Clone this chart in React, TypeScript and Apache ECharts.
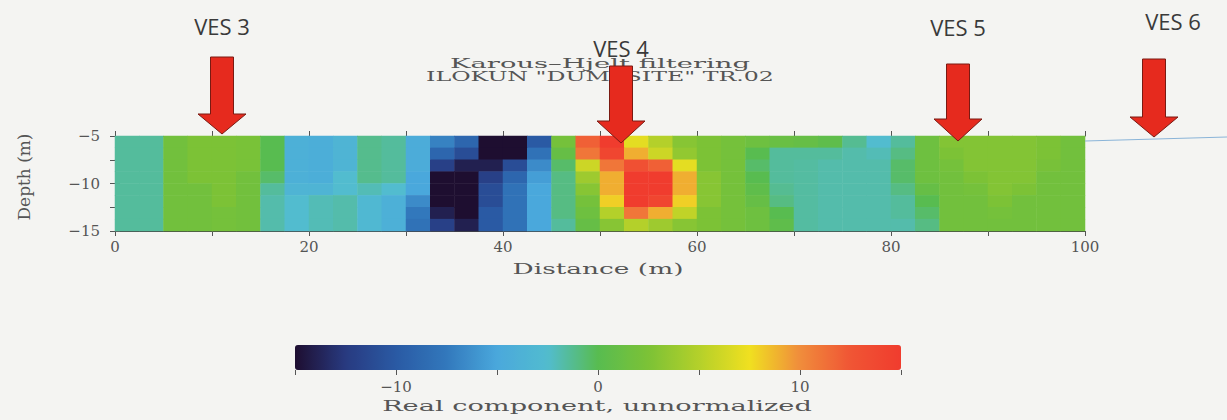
import { useEffect, useRef } from "react";
import * as echarts from "echarts";

// Column centres (distance, m) and row centres (depth, m, top -> bottom)
const colCenters = [1.25, 3.75, 6.25, 8.75, 11.25, 13.75, 16.25, 18.75, 21.25, 23.75, 26.25, 28.75, 31.25, 33.75, 36.25, 38.75, 41.25, 43.75, 46.25, 48.75, 51.25, 53.75, 56.25, 58.75, 61.25, 63.75, 66.25, 68.75, 71.25, 73.75, 76.25, 78.75, 81.25, 83.75, 86.25, 88.75, 91.25, 93.75, 96.25, 98.75];
const depthRows = [-5.625, -6.875, -8.125, -9.375, -10.625, -11.875, -13.125, -14.375];

// Real component values, one array per depth row (top -> bottom)
const row0 = [-1.5, -1.5, 1.8, 2.5, 2.5, 2.3, 0, -4, -4.3, -3.5, -1.2, -1.5, -4.5, -7, -9, -16, -17, -10, 2, 12, 15, 7, 5, 3, 2.5, 2, 1.5, 1.2, 1, 0.5, -1.3, -2.5, -1.5, 1.5, 2.8, 2.8, 2.8, 2.8, 2.5, 1.8];
const row1 = [-1.5, -1.5, 1.8, 2.5, 2.5, 2.3, 0, -4, -4.3, -3.5, -1.2, -1.5, -4.5, -9, -11, -16, -15, -8, 1, 11, 14, 9, 6, 3.5, 2.5, 2, 0, -1.5, -1.5, -1.5, -1.8, -2, -1, 1.5, 2.5, 2.8, 2.8, 2.8, 2.5, 1.8];
const row2 = [-1.5, -1.5, 1.8, 2.5, 2.5, 2.3, 0, -4, -4.3, -3.5, -1.2, -1.5, -4.5, -12, -14, -14, -11, -6.5, -0.5, 6, 11, 13, 12, 7, 2.5, 2, -0.5, -1.5, -1.6, -1.8, -1.8, -1.8, -0.5, 1.5, 2, 2.8, 2.8, 2.8, 2.2, 1.8];
const row3 = [-1.5, -1.5, 1.8, 2.5, 2.5, 1.8, -0.5, -4, -4.3, -2.5, -1.2, -1.5, -5, -15, -17, -12, -9, -5.5, -1, 4, 9, 15, 15, 9, 3, 2, 0, -1.5, -1.6, -1.8, -1.8, -1.8, -0.5, 1.5, 1.8, 2.5, 2.8, 2.8, 1.8, 1.8];
const row4 = [-1.5, -1.5, 1.8, 1.8, 2.5, 1.8, -1.5, -3.5, -3.5, -2.5, -2, -2.5, -5, -16, -17, -11, -8, -5, -1, 3, 9, 15, 15, 9, 3, 2, 0.5, -1.3, -1.6, -1.8, -1.8, -1.8, -1, 1, 1.8, 2, 2.8, 2.5, 1.8, 1.8];
const row5 = [-1.5, -1.5, 1.8, 1.8, 2.5, 1.8, -1.8, -2.5, -2, -1.8, -3, -4, -6.5, -16, -17, -11, -8, -5, -1, 2, 8, 15, 14, 8, 3, 2, 1, -1, -1.6, -1.8, -1.8, -1.8, -1.5, 0, 1.8, 1.8, 2.5, 1.8, 1.8, 1.8];
const row6 = [-1.5, -1.5, 1.8, 1.8, 2, 1.8, -1.8, -2.5, -2, -1.8, -3, -4, -7.5, -14, -16, -10, -8, -5, -1, 1.5, 5, 11, 9, 5.5, 2.5, 2, 1.5, 0, -1.6, -1.8, -1.8, -1.8, -1.5, -0.5, 1.8, 1.8, 2, 1.8, 1.8, 1.8];
const row7 = [-1.5, -1.5, 1.8, 1.8, 2, 1.8, -1.8, -2.5, -2, -1.8, -3, -4, -8, -12, -14, -10, -8, -5, -1.5, 1, 3, 5, 4, 3, 2.5, 2, 1.5, 0.5, -1.6, -1.8, -1.8, -1.8, -1.8, -1, 1.8, 1.8, 1.8, 1.8, 1.8, 1.8];
const rows = [row0, row1, row2, row3, row4, row5, row6, row7];

// Colour scale (evenly spaced from -15 to 15)
const scaleColors = ["#1e0e30", "#283a80", "#2a5aa4", "#3278bc", "#4aa8dc", "#52bccf", "#58bc50", "#7cc236", "#b4d02a", "#f0e020", "#f08c3c", "#f05534", "#f03c2e"];

// VES markers: label, arrow centre x, label centre y, arrow top, head start, tip
const vesLabels = ["VES 3", "VES 4", "VES 5", "VES 6"];
const vesX = [222, 621, 958, 1154];
const vesLabelY = [26, 48, 27, 21];
const vesTop = [57, 66, 64, 59];
const vesHead = [114, 121, 119, 117];
const vesTip = [134, 143, 141, 137];

const SERIF = "DejaVu Serif";
const TXT = "#555";

function widthScale(text: string, font: string, target: number) {
  const c = document.createElement("canvas").getContext("2d");
  if (!c) return 1;
  c.font = font;
  const w = c.measureText(text).width;
  return w > 0 ? target / w : 1;
}

function minusFmt(v: number) {
  return String(v).replace("-", "\u2212");
}

export default function App() {
  const ref = useRef<HTMLDivElement>(null);
  useEffect(() => {
    if (!ref.current) return;
    const chart = echarts.init(ref.current, null, { renderer: "svg" });

    const data: number[][] = [];
    rows.forEach((r, ri) => {
      r.forEach((v, ci) => {
        data.push([ci, rows.length - 1 - ri, v]);
      });
    });

    const stretched = (text: string, size: number, cx: number, cy: number, target: number, rot = 0) => {
      const font = `${size}px "${SERIF}"`;
      return {
        type: "text",
        x: cx,
        y: cy,
        rotation: rot,
        scaleX: widthScale(text, font, target),
        z: 10,
        style: {
          text,
          font,
          fill: TXT,
          textAlign: "center",
          textVerticalAlign: "middle",
        },
      };
    };

    const arrows = vesX.map((cx, i) => {
      const sh = 11.5;
      const hh = 24;
      return {
        type: "polygon",
        z: 20,
        shape: {
          points: [
            [cx - sh, vesTop[i]],
            [cx + sh, vesTop[i]],
            [cx + sh, vesHead[i]],
            [cx + hh, vesHead[i]],
            [cx, vesTip[i]],
            [cx - hh, vesHead[i]],
            [cx - sh, vesHead[i]],
          ],
        },
        style: { fill: "#e62a1e", stroke: "#7a1a12", lineWidth: 1 },
      };
    });

    const vesTexts = vesLabels.map((t, i) => ({
      type: "text",
      x: vesX[i] + (i === 3 ? 19 : 0),
      y: vesLabelY[i],
      z: 20,
      style: {
        text: t,
        font: '22px "Open Sans"',
        fill: "#3a3a3a",
        textAlign: "center",
        textVerticalAlign: "middle",
      },
    }));

    const frameAxis = {
      axisLine: { show: true, lineStyle: { color: "#444", width: 1 } },
      axisTick: { show: true, length: 5, lineStyle: { color: "#555" } },
      splitLine: { show: false },
    };

    chart.setOption({
      animation: false,
      backgroundColor: "#f4f4f2",
      grid: [
        { left: 115, top: 136, width: 970, height: 95 },
        { left: 115, top: 136, width: 970, height: 95 },
        { left: 295, top: 345, width: 606, height: 25 },
      ],
      xAxis: [
        { gridIndex: 0, type: "category", data: colCenters.map(String), show: false },
        {
          gridIndex: 1, type: "value", position: "bottom", min: 0, max: 100, interval: 10,
          ...frameAxis,
          axisLabel: {
            margin: 8, fontFamily: SERIF, fontSize: 15, color: TXT,
            formatter: (v: number) => (v % 20 === 0 ? String(v) : ""),
          },
        },
        {
          gridIndex: 1, type: "value", position: "top", min: 0, max: 100, interval: 10,
          ...frameAxis, axisLabel: { show: false },
        },
        {
          gridIndex: 2, type: "value", position: "bottom", min: -15, max: 15, interval: 5,
          axisLine: { show: false },
          axisTick: { show: true, length: 5, lineStyle: { color: "#555" } },
          splitLine: { show: false },
          axisLabel: {
            margin: 9, fontFamily: SERIF, fontSize: 15, color: TXT,
            formatter: (v: number) => (v % 10 === 0 && Math.abs(v) < 15 ? minusFmt(v) : ""),
          },
        },
      ],
      yAxis: [
        { gridIndex: 0, type: "category", data: [...depthRows].reverse().map(String), show: false },
        {
          gridIndex: 1, type: "value", position: "left", min: -15, max: -5, interval: 2.5,
          ...frameAxis,
          axisLabel: {
            margin: 15, fontFamily: SERIF, fontSize: 15, color: TXT,
            formatter: (v: number) => (v % 5 === 0 ? minusFmt(v) : ""),
          },
        },
        {
          gridIndex: 1, type: "value", position: "right", min: -15, max: -5, interval: 2.5,
          ...frameAxis, axisLabel: { show: false },
        },
        { gridIndex: 2, type: "value", min: 0, max: 1, show: false },
      ],
      visualMap: {
        type: "continuous",
        min: -15,
        max: 15,
        orient: "horizontal",
        left: 295,
        top: 345,
        itemWidth: 25,
        itemHeight: 606,
        padding: 0,
        calculable: false,
        hoverLink: false,
        seriesIndex: 0,
        inRange: { color: scaleColors },
      },
      series: [
        {
          type: "heatmap",
          xAxisIndex: 0,
          yAxisIndex: 0,
          data,
          progressive: 0,
          emphasis: { disabled: true },
        },
      ],
      graphic: [
        {
          type: "line",
          z: 5,
          shape: { x1: 1085, y1: 141, x2: 1227, y2: 137 },
          style: { stroke: "#8ab4d8", lineWidth: 1 },
        },
        stretched("Karous\u2013Hjelt filtering", 13, 600, 63, 300),
        stretched('ILOKUN "DUMPSITE" TR.02', 13, 600, 77, 348),
        stretched("Distance (m)", 15, 598, 269, 171),
        stretched("Depth (m)", 16, 25, 177, 87, Math.PI / 2),
        stretched("Real component, unnormalized", 14, 597, 406, 430),
        ...arrows,
        ...vesTexts,
      ],
    });

    return () => chart.dispose();
  }, []);

  return (
    <div
      ref={ref}
      style={{ position: "fixed", left: 0, top: 0, width: 1227, height: 420 }}
    />
  );
}
